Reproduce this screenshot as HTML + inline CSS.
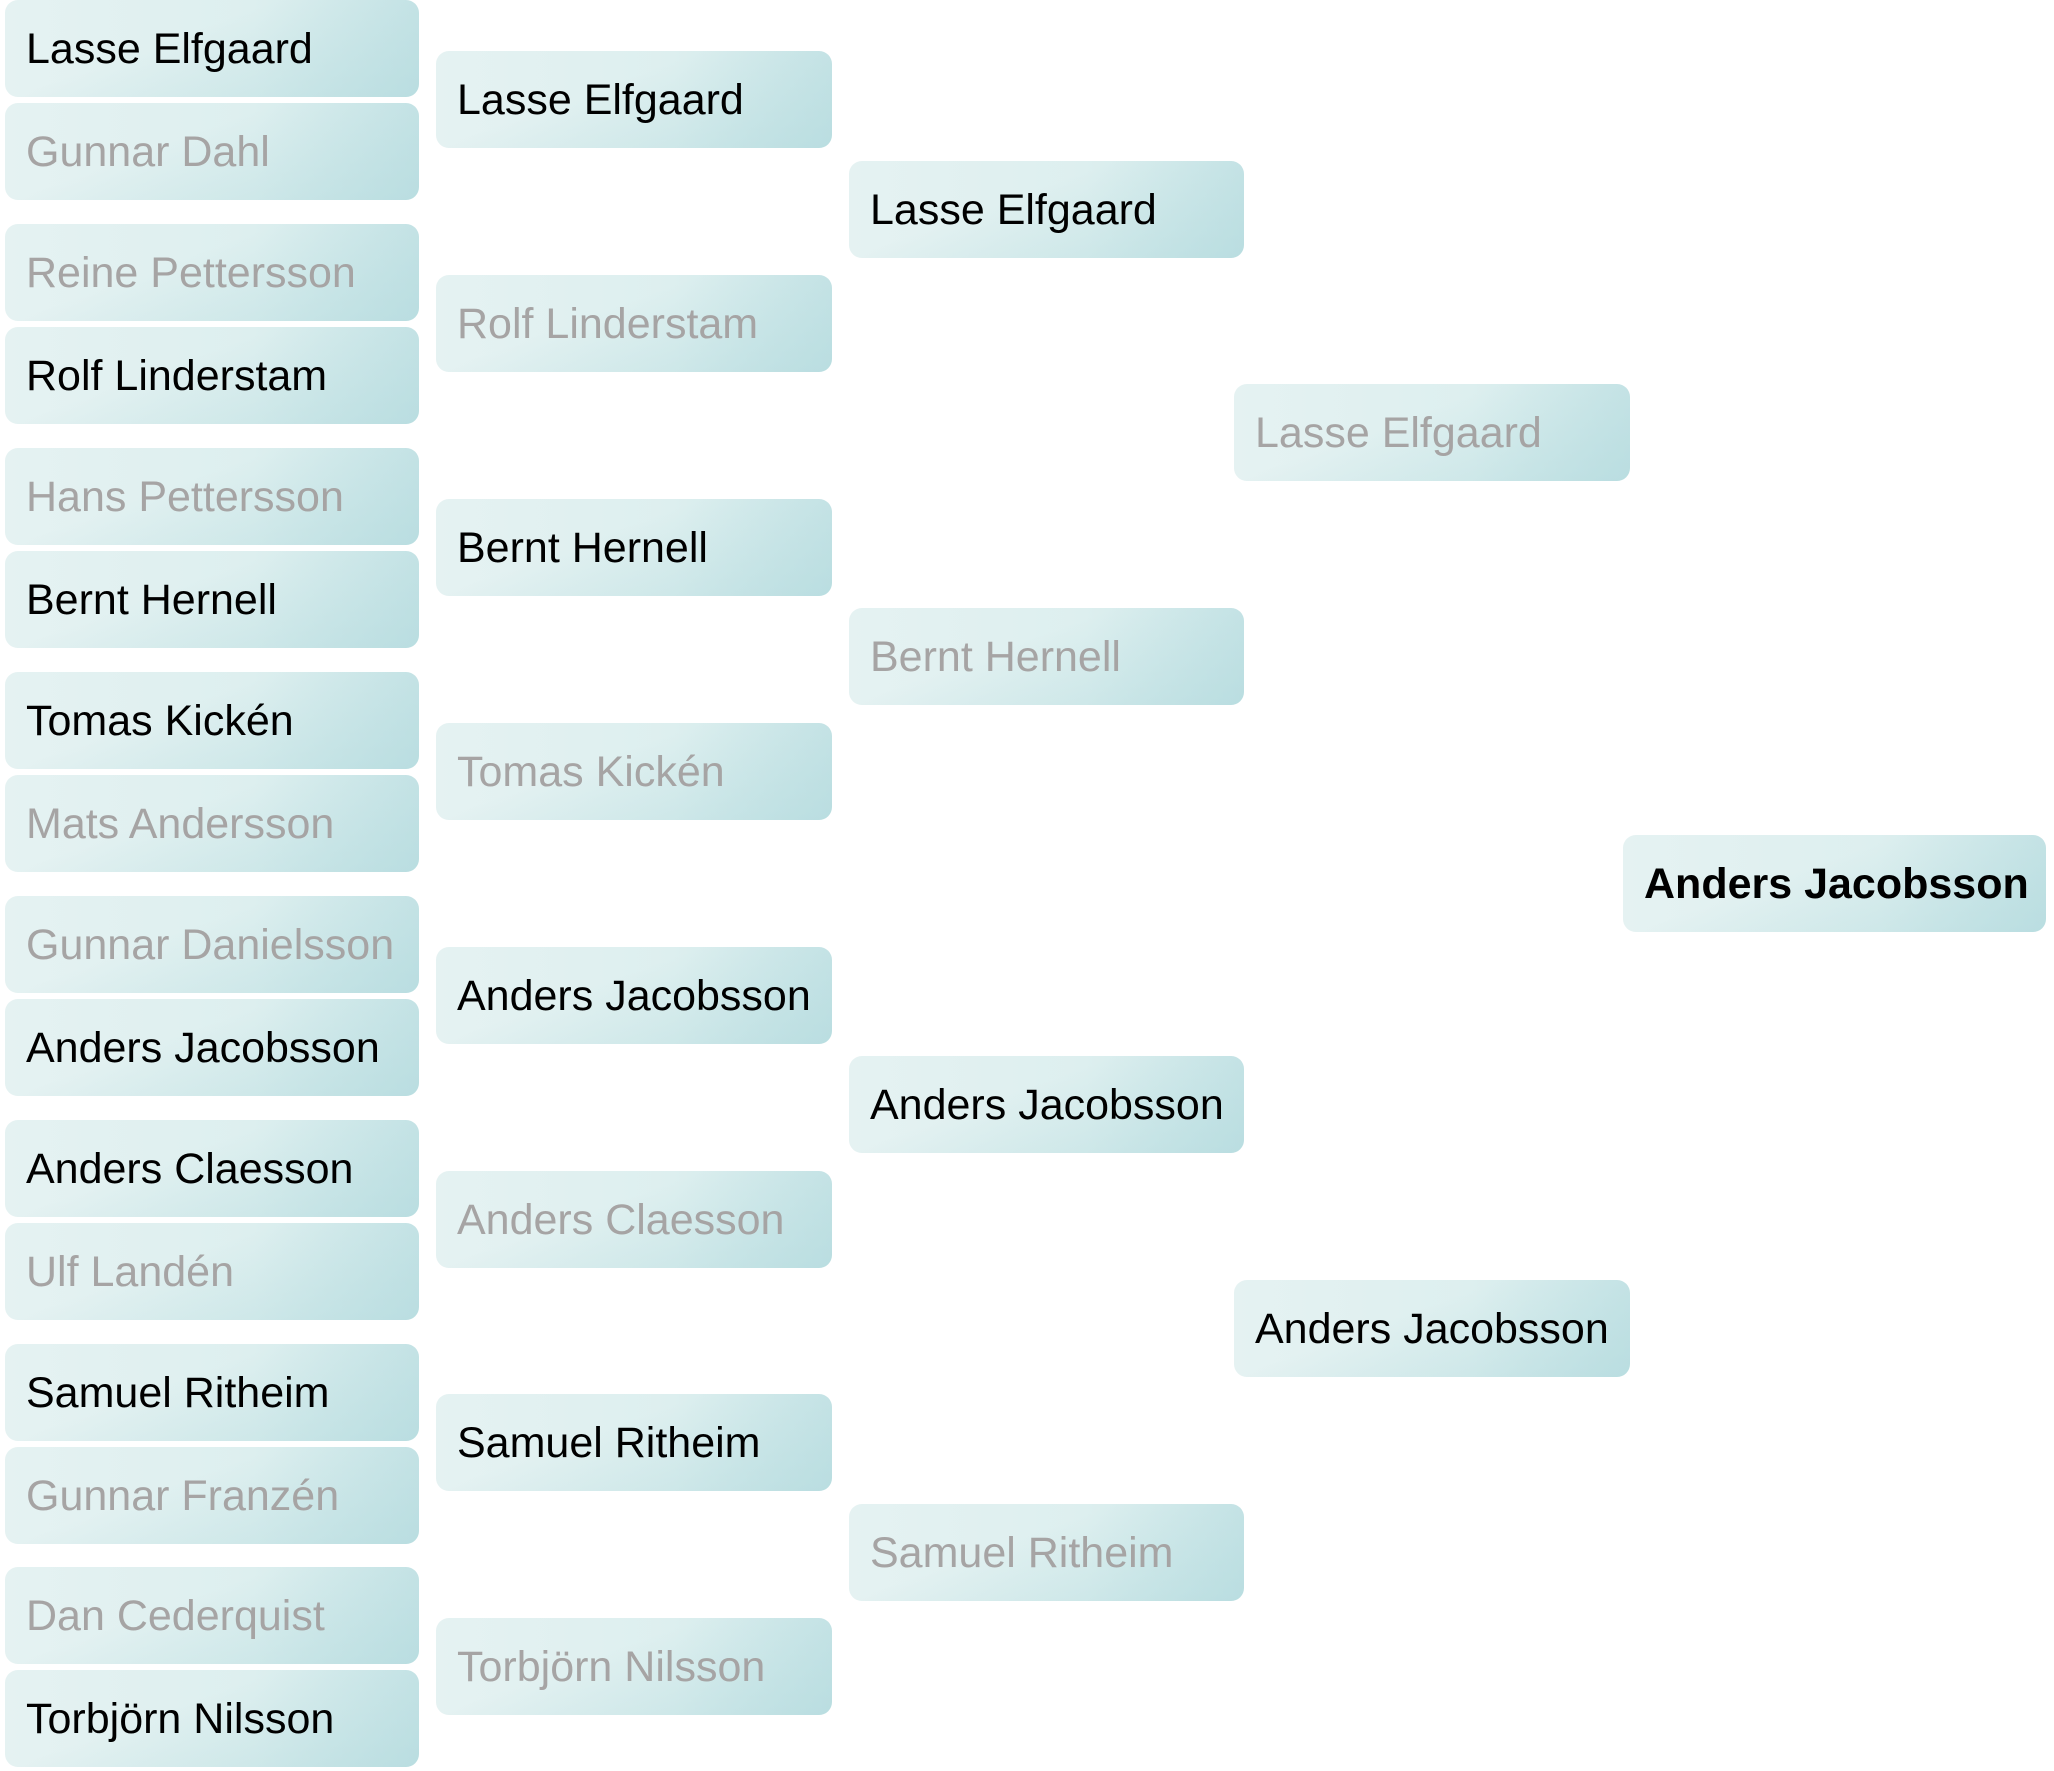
<!DOCTYPE html>
<html><head><meta charset="utf-8"><style>
html,body{margin:0;padding:0;background:#fff;}
body{width:2054px;height:1771px;position:relative;overflow:hidden;font-family:"Liberation Sans",Arial,sans-serif;}
.b{position:absolute;height:97px;border-radius:13px;box-sizing:border-box;padding-left:21px;padding-top:2px;display:flex;align-items:center;font-size:43px;color:#000;white-space:nowrap;
background:linear-gradient(160deg,rgba(255,255,255,0) 40%,rgba(170,214,218,0.5) 100%),linear-gradient(90deg,#e5f2f2 0%,#ddefef 60%,#c9e5e7 100%);}
.g{color:#a6a4a4;}
.c1{left:5px;width:414px;}
.c2{left:436px;width:396px;}
.c3{left:849px;width:395px;}
.c4{left:1234px;width:396px;}
.c5{left:1623px;width:423px;font-weight:bold;}
</style></head><body>
<div class="b c1" style="top:0px">Lasse Elfgaard</div>
<div class="b c1 g" style="top:103px">Gunnar Dahl</div>
<div class="b c1 g" style="top:224px">Reine Pettersson</div>
<div class="b c1" style="top:327px">Rolf Linderstam</div>
<div class="b c1 g" style="top:448px">Hans Pettersson</div>
<div class="b c1" style="top:551px">Bernt Hernell</div>
<div class="b c1" style="top:672px">Tomas Kickén</div>
<div class="b c1 g" style="top:775px">Mats Andersson</div>
<div class="b c1 g" style="top:896px">Gunnar Danielsson</div>
<div class="b c1" style="top:999px">Anders Jacobsson</div>
<div class="b c1" style="top:1120px">Anders Claesson</div>
<div class="b c1 g" style="top:1223px">Ulf Landén</div>
<div class="b c1" style="top:1344px">Samuel Ritheim</div>
<div class="b c1 g" style="top:1447px">Gunnar Franzén</div>
<div class="b c1 g" style="top:1567px">Dan Cederquist</div>
<div class="b c1" style="top:1670px">Torbjörn Nilsson</div>

<div class="b c2" style="top:51px">Lasse Elfgaard</div>
<div class="b c2 g" style="top:275px">Rolf Linderstam</div>
<div class="b c2" style="top:499px">Bernt Hernell</div>
<div class="b c2 g" style="top:723px">Tomas Kickén</div>
<div class="b c2" style="top:947px">Anders Jacobsson</div>
<div class="b c2 g" style="top:1171px">Anders Claesson</div>
<div class="b c2" style="top:1394px">Samuel Ritheim</div>
<div class="b c2 g" style="top:1618px">Torbjörn Nilsson</div>

<div class="b c3" style="top:161px">Lasse Elfgaard</div>
<div class="b c3 g" style="top:608px">Bernt Hernell</div>
<div class="b c3" style="top:1056px">Anders Jacobsson</div>
<div class="b c3 g" style="top:1504px">Samuel Ritheim</div>

<div class="b c4 g" style="top:384px">Lasse Elfgaard</div>
<div class="b c4" style="top:1280px">Anders Jacobsson</div>

<div class="b c5" style="top:835px">Anders Jacobsson</div>
</body></html>
